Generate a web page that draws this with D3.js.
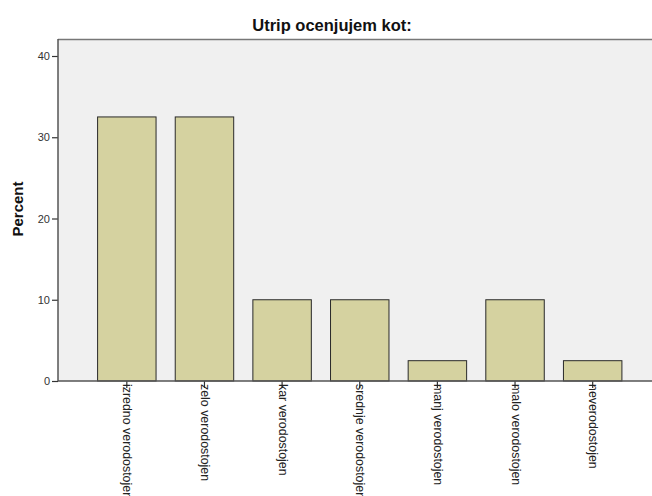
<!DOCTYPE html>
<html>
<head>
<meta charset="utf-8">
<script src="https://cdn.jsdelivr.net/npm/d3@7"></script>
<style>
  body { margin: 0; background: #fff; }
  text { font-family: Arial, "Liberation Sans", sans-serif; }
</style>
</head>
<body>
<div id="chart"></div>
<script>
var categories = ["izredno verodostojen", "zelo verodostojen", "kar verodostojen",
    "srednje verodostojen", "manj verodostojen", "malo verodostojen", "neverodostojen"];
var percents = [32.5, 32.5, 10, 10, 2.5, 10, 2.5];
var yTicks = [0, 10, 20, 30, 40];
var titleText = "Utrip ocenjujem kot:";
var yLabel = "Percent";

var W = 652, H = 496;
var plot = { left: 58, right: 652, top: 39, bottom: 381 };

var svg = d3.select("#chart").append("svg")
    .attr("width", W)
    .attr("height", H);

// plot background
svg.append("rect")
    .attr("x", plot.left)
    .attr("y", plot.top)
    .attr("width", plot.right - plot.left)
    .attr("height", plot.bottom - plot.top)
    .attr("fill", "#f0f0f0");

svg.append("line")
    .attr("x1", plot.left).attr("x2", plot.right)
    .attr("y1", plot.top + 0.5).attr("y2", plot.top + 0.5)
    .attr("stroke", "#777").attr("stroke-width", 1.5);

var x = d3.scaleBand()
    .domain(categories)
    .range([88, 631.5])
    .paddingInner(0.247)
    .paddingOuter(0.1235);

var y = d3.scaleLinear()
    .domain([0, 40])
    .range([381, 56]);

// bars
svg.selectAll(".bar")
    .data(percents)
    .enter().append("rect")
    .attr("class", "bar")
    .attr("x", function(d, i) { return x(categories[i]); })
    .attr("y", function(d) { return y(d); })
    .attr("width", x.bandwidth())
    .attr("height", function(d) { return y(0) - y(d); })
    .attr("fill", "#d5d2a0")
    .attr("stroke", "#2a2a2a")
    .attr("stroke-width", 1);

// y axis
var yAxis = svg.append("g")
    .attr("transform", "translate(" + plot.left + ",0)")
    .call(d3.axisLeft(y).tickValues(yTicks).tickSize(6).tickPadding(2));
yAxis.select(".domain").remove();
yAxis.append("line")
    .attr("x1", 0).attr("x2", 0)
    .attr("y1", plot.top).attr("y2", plot.bottom)
    .attr("stroke", "#555").attr("stroke-width", 1.5);
yAxis.selectAll(".tick line").attr("stroke", "#333").attr("stroke-width", 1.2);
yAxis.selectAll(".tick text")
    .attr("fill", "#333")
    .style("font-size", "11px")
    .style("font-family", "Arial, 'Liberation Sans', sans-serif");

// x axis
var xAxis = svg.append("g")
    .attr("transform", "translate(0," + plot.bottom + ")")
    .call(d3.axisBottom(x).tickSize(7).tickSizeOuter(0));
xAxis.select(".domain").remove();
xAxis.append("line")
    .attr("x1", plot.left).attr("x2", plot.right)
    .attr("y1", 0).attr("y2", 0)
    .attr("stroke", "#555").attr("stroke-width", 1.5);
xAxis.selectAll(".tick line").attr("stroke", "#333").attr("stroke-width", 1.2);
xAxis.selectAll(".tick text")
    .attr("fill", "#222")
    .attr("transform", "rotate(90)")
    .attr("x", 3)
    .attr("y", -1)
    .attr("dy", "0.35em")
    .style("text-anchor", "start")
    .style("font-size", "12.4px")
    .style("font-family", "Arial, 'Liberation Sans', sans-serif");

// title
svg.append("text")
    .attr("x", 332)
    .attr("y", 31)
    .attr("text-anchor", "middle")
    .style("font-size", "16.5px")
    .style("font-weight", "bold")
    .attr("fill", "#111")
    .text(titleText);

// y label
svg.append("text")
    .attr("transform", "translate(23,209) rotate(-90)")
    .attr("text-anchor", "middle")
    .style("font-size", "15px")
    .style("font-weight", "bold")
    .attr("fill", "#111")
    .text(yLabel);
</script>
</body>
</html>
